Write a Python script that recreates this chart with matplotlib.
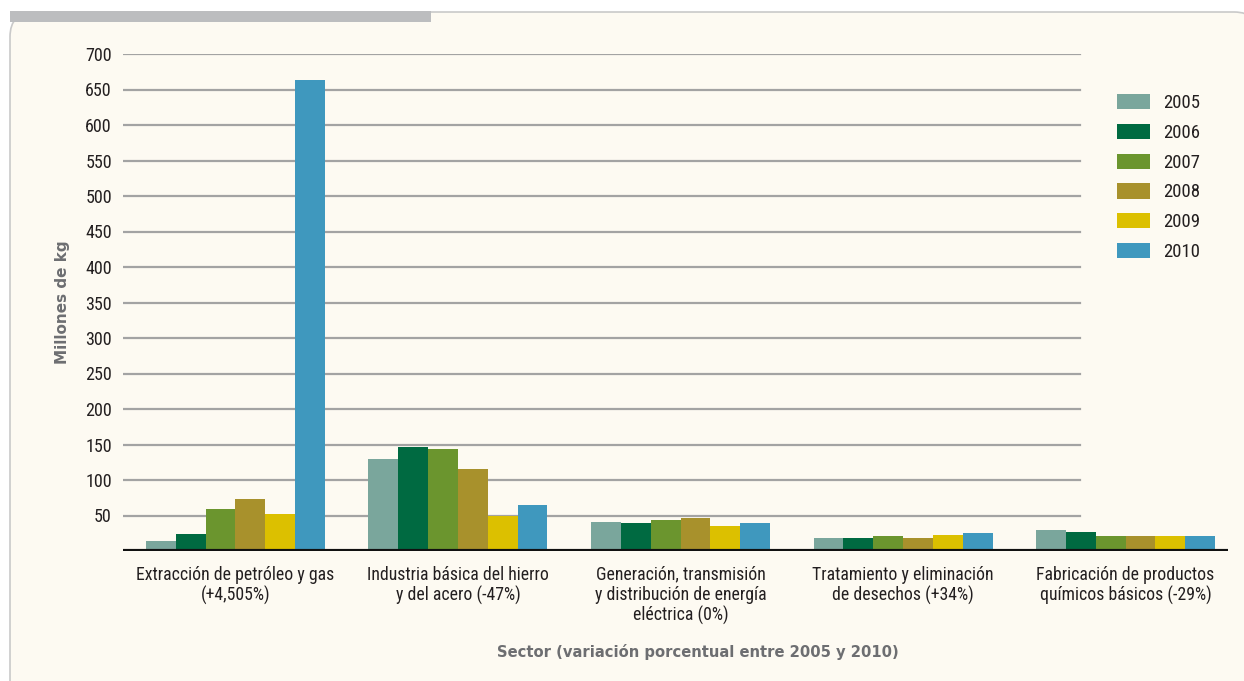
import matplotlib
matplotlib.use("Agg")
import matplotlib.pyplot as plt
from matplotlib import font_manager
import numpy as np
from matplotlib.patches import FancyBboxPatch, Rectangle

# pick a condensed font if one is available
names = {(f.name, f.stretch) for f in font_manager.fontManager.ttflist}
cond_family, cond_stretch = "DejaVu Sans", "normal"
for cand in ["Liberation Sans Narrow", "Roboto Condensed", "Open Sans Condensed",
             "Noto Sans Condensed", "DejaVu Sans Condensed"]:
    if any(n == cand for n, s in names):
        cond_family, cond_stretch = cand, "normal"
        break
else:
    if ("DejaVu Sans", "condensed") in names or ("DejaVu Sans", "semi-condensed") in names:
        cond_family, cond_stretch = "DejaVu Sans", "condensed"
    elif any(n == "Roboto" and s != "normal" for n, s in names):
        cond_family, cond_stretch = "Roboto", "condensed"

plt.rcParams['font.family'] = [cond_family, 'DejaVu Sans']
plt.rcParams['font.stretch'] = cond_stretch

sectors = [
    "Extracción de petróleo y gas\n(+4,505%)",
    "Industria básica del hierro\ny del acero (-47%)",
    "Generación, transmisión\ny distribución de energía\neléctrica (0%)",
    "Tratamiento y eliminación\nde desechos (+34%)",
    "Fabricación de productos\nquímicos básicos (-29%)",
]
years = ["2005", "2006", "2007", "2008", "2009", "2010"]
v2005 = [14, 129, 41, 18, 30]
v2006 = [24, 146, 40, 18, 27]
v2007 = [59, 143, 43, 21, 21]
v2008 = [73, 115, 47, 18, 21]
v2009 = [52, 50, 35, 22, 21]
v2010 = [663, 65, 40, 25, 21]
series = [v2005, v2006, v2007, v2008, v2009, v2010]
colors = ["#7aa69c", "#006a41", "#6b952e", "#a8912c", "#dcc000", "#3f98be"]
yticks = [50, 100, 150, 200, 250, 300, 350, 400, 450, 500, 550, 600, 650, 700]

W, H = 12.44, 6.81
fig = plt.figure(figsize=(W, H), dpi=100, facecolor="white")

# background panel
bg = FancyBboxPatch((0.10, -0.5), W + 0.15 - 0.10, 6.69 + 0.5,
                    boxstyle="round,pad=0,rounding_size=0.25",
                    transform=fig.dpi_scale_trans, facecolor="#fdfaf2",
                    edgecolor="#c9c9c9", linewidth=1.2, zorder=-5)
fig.patches.append(bg)
fig.patches.append(Rectangle((0.095, 6.59), 4.31 - 0.095, 0.105,
                             transform=fig.dpi_scale_trans,
                             facecolor="#bcbdbf", edgecolor="none", zorder=-4))

ax = fig.add_axes([123 / 1244, 1 - 551 / 681, (1228 - 123) / 1244, (551 - 54) / 681])
ax.set_zorder(2)
ax.set_facecolor("none")
ax.patch.set_alpha(0)
ax.set_xlim(-0.505, 4.46)
ax.set_ylim(0, 700)

x = np.arange(len(sectors))
bw = 0.134
for i, (vals, c, yr) in enumerate(zip(series, colors, years)):
    ax.bar(x + (i - 2.5) * bw, vals, width=bw, color=c, edgecolor="none",
           label=yr, zorder=3)

gx = (1080 - 123) / (1228 - 123)
for t in yticks:
    ax.axhline(t, xmin=0, xmax=gx, color="#a3a3a3", linewidth=1.6, zorder=1)
ax.axhline(0, color="#111111", linewidth=3, zorder=4)

for s in ax.spines.values():
    s.set_visible(False)
ax.set_yticks(yticks)
ax.set_yticklabels([str(t) for t in yticks], fontsize=13, color="#231f20")
ax.tick_params(axis="y", length=0, pad=8)
ax.set_xticks(x)
ax.set_xticklabels(sectors, fontsize=12.8, color="#231f20",
                   linespacing=1.15)
ax.tick_params(axis="x", length=0, pad=10.5)

ax.set_ylabel("Millones de kg", fontsize=11, fontweight="bold",
              color="#6d6e71", family=["DejaVu Sans"], stretch="normal")
ax.yaxis.set_label_coords((70 - 123) / (1228 - 123), 0.5)
fig.text(698 / 1244, 1 - 652 / 681, "Sector (variación porcentual entre 2005 y 2010)",
         ha="center", va="center", fontsize=10.6, fontweight="bold",
         color="#6d6e71", family=["DejaVu Sans"], stretch="normal")

leg = ax.legend(loc="upper left", bbox_to_anchor=(1117 / 1244, 1 - 94 / 681),
                bbox_transform=fig.transFigure, frameon=False, fontsize=13.5,
                handlelength=1.75, handleheight=0.88, handletextpad=0.7,
                labelspacing=0.62, borderpad=0, borderaxespad=0)
for t in leg.get_texts():
    t.set_color("#231f20")

fig.savefig("out.png", dpi=100, facecolor="white")
